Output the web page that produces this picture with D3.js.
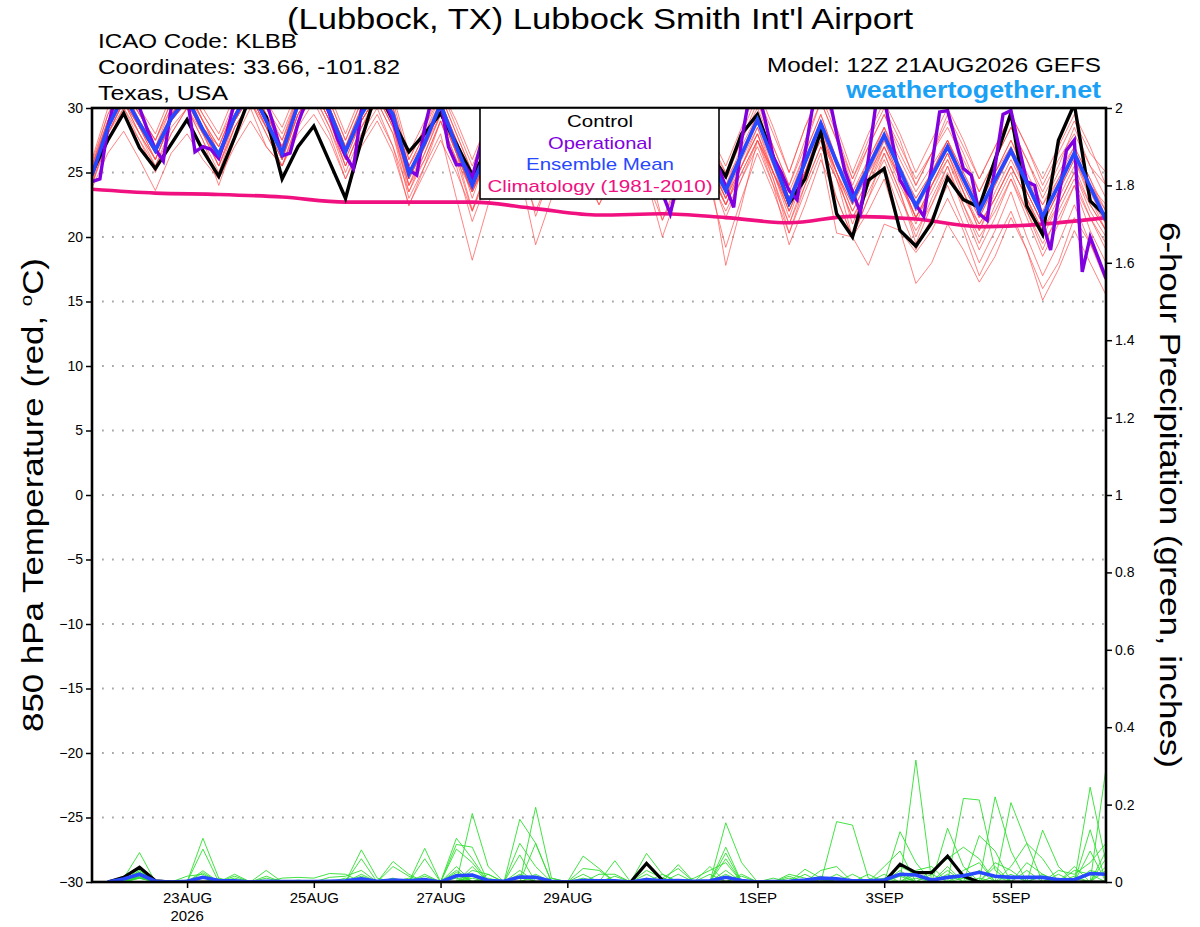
<!DOCTYPE html>
<html>
<head>
<meta charset="utf-8">
<script src="https://cdn.jsdelivr.net/npm/d3@7"></script>
<style>
  body { margin: 0; background: #fff; }
  svg { display: block; font-family: "Liberation Sans", Arial, Helvetica, sans-serif; }
</style>
</head>
<body>
<svg id="chart" width="1200" height="927"></svg>
<script>
// run start: 12Z 21AUG2026, 6-hourly steps (0..64)
var runStart = Date.UTC(2026, 7, 21, 12);

var tickDates = [Date.UTC(2026,7,23), Date.UTC(2026,7,25), Date.UTC(2026,7,27), Date.UTC(2026,7,29),
                 Date.UTC(2026,8,1), Date.UTC(2026,8,3), Date.UTC(2026,8,5)];
var tempTicks = [-30,-25,-20,-15,-10,-5,0,5,10,15,20,25,30];
var precipTicks = [0,0.2,0.4,0.6,0.8,1,1.2,1.4,1.6,1.8,2];

// 850 hPa temperature, control run (6-hourly)
var controlTemp = [25.0,27.5,29.6,26.9, 25.3,27.2,29.1,26.7, 24.7,27.7,31.0,29.3, 24.5,27.0,28.6,25.8,
  23.0,27.5,31.5,29.0, 26.6,28.0,29.6,27.2, 24.8,26.8,29.0,27.0, 25.0,27.0,29.5,28.0,
  24.5,27.0,29.0,27.0, 24.0,26.0,28.5,26.5, 24.7,28.0,29.5,26.2, 22.6,24.5,28.2,21.8,
  20.0,24.4,25.3,20.5, 19.3,21.1,24.6,22.9, 22.3,26.0,29.6,22.4, 20.2,27.5,30.3,22.8, 21.6];

// ensemble mean (6-hourly)
var meanTemp = [24.8,28.5,31.0,28.8, 26.7,29.2,30.8,28.3, 26.4,29.3,31.5,29.0, 26.5,30.3,32.0,29.7,
  26.6,29.5,31.5,29.5, 24.9,27.3,30.3,27.0, 24.0,27.0,29.5,27.5, 25.0,27.5,29.5,27.5,
  25.5,27.5,29.5,27.0, 24.5,26.5,28.5,26.0, 23.6,26.4,29.1,25.9, 22.7,25.8,28.8,25.8,
  22.9,25.4,27.9,25.2, 22.4,24.7,27.0,24.5, 22.0,24.4,26.7,24.2, 21.6,24.0,26.5,23.9, 21.3];

// operational run (3-hourly, 0..128)
var operTemp = [24.3,24.5,28.5,31.0,31.5,31.0,30.0,28.3, 26.8,25.9,30.0,31.5,31.0,26.6,27.0,26.8,
  26.1,28.0,30.5,31.5,32.0,31.0,30.5,28.5, 26.3,26.5,28.8,30.5,31.5,31.0,29.5,27.6,
  26.3,25.3,29.8,31.5,32.0,30.5,29.0,27.0, 25.2,24.8,28.5,31.0,30.5,27.0,25.6,25.6,
  24.6,27.0,29.5,30.5,31.0,30.0,28.0,26.5, 25.5,25.5,27.5,30.0,31.0,30.5,29.0,27.5,
  26.0,25.5,27.0,29.5,30.5,30.0,28.0,25.5, 23.4,21.8,24.5,27.5,29.5,30.0,28.0,25.5,
  23.9,22.3,27.5,31.0,31.5,29.0,26.2,25.0, 23.6,22.9,26.5,30.2,31.5,31.0,28.0,25.2,
  23.5,21.9,26.0,30.5,30.8,27.5,24.4,23.4, 22.5,21.6,25.5,29.7,29.8,27.5,25.3,24.8,
  21.8,21.3,25.5,29.5,29.8,27.0,24.3,24.0, 21.1,19.0,23.0,26.7,27.5,17.3,20.0,18.4, 16.8];

// climatology 1981-2010 (daily, at 12Z)
var climoTemp = [23.7,23.4,23.3,23.1,22.7,22.7,22.7,22.2,21.7,21.8,21.5,21.1,21.6,21.4,20.8,21.0,21.5];

// ensemble members (6-hourly)
var memberTemps = [
 [25.5,29.0,31.5,29.0, 27.0,30.0,31.5,29.0, 27.0,30.0,32.0,29.5, 27.0,31.0,32.5,30.0, 27.0,30.0,32.0,30.0,
  25.5,28.0,31.0,28.0, 25.0,28.0,30.5,28.5, 26.0,28.5,30.5,28.0, 26.0,28.5,30.5,28.0, 25.5,27.5,29.5,27.0,
  24.5,27.5,30.5,27.0, 24.0,27.0,30.5,27.5, 24.5,27.0,29.5,26.5, 24.0,26.5,29.0,26.5, 23.5,26.0,28.5,26.0,
  23.0,25.5,28.5,25.5, 23.0],
 [23.8,26.5,28.2,26.0, 23.6,26.5,28.0,26.0, 24.5,27.0,29.0,27.0, 25.5,28.0,29.5,27.5, 24.5,27.0,29.0,26.5,
  22.5,25.0,27.5,25.0, 22.0,25.0,27.5,25.5, 23.0,25.5,27.5,25.5, 23.5,25.5,27.5,25.5, 23.0,25.0,27.0,24.5,
  22.0,24.5,27.0,24.0, 21.0,24.0,27.0,24.5, 21.5,23.5,26.0,23.0, 20.5,22.5,25.0,22.5, 20.0,22.0,24.5,22.0,
  19.5,21.5,24.0,21.5, 19.0],
 [24.5,28.0,30.5,28.5, 26.5,29.0,31.0,28.5, 26.0,29.0,31.0,28.5, 26.0,29.5,31.5,29.0, 25.5,28.5,30.5,28.0,
  23.0,25.5,28.0,23.0, 18.2,22.5,26.0,25.0, 24.0,27.0,29.5,27.5, 25.0,27.0,29.0,26.5, 23.5,26.0,28.0,25.5,
  22.5,25.5,28.5,25.0, 21.5,25.0,28.5,25.0, 21.0,24.0,27.0,24.5, 21.5,24.0,26.5,23.5, 20.5,23.5,26.0,23.5,
  21.0,23.5,26.0,23.0, 20.5],
 [25.0,28.5,31.0,29.0, 26.5,29.5,31.0,28.5, 26.5,29.5,32.0,29.5, 27.0,30.5,32.5,30.0, 26.5,29.0,31.0,28.5,
  24.5,27.0,30.0,26.5, 23.5,26.5,29.0,25.0, 19.4,23.0,27.5,26.0, 24.5,27.0,29.5,26.5, 23.0,26.0,28.5,25.0,
  17.8,22.5,27.5,25.0, 22.0,25.0,28.0,25.0, 22.0,24.5,27.5,24.5, 21.0,24.0,26.5,23.5, 21.0,23.0,25.5,23.0,
  20.0,22.5,25.0,22.0, 20.0],
 [25.8,29.5,32.0,29.5, 27.5,30.5,32.0,29.5, 27.5,30.5,32.5,30.0, 27.5,31.0,33.0,30.5, 27.5,30.5,32.5,30.5,
  26.0,28.5,31.5,28.5, 25.5,28.5,31.0,29.0, 26.5,29.0,31.0,29.0, 27.0,29.0,31.0,28.5, 26.0,28.0,30.0,27.5,
  25.0,28.0,31.0,28.0, 25.0,28.5,31.5,28.5, 25.0,28.0,30.5,28.0, 25.0,27.5,30.0,27.5, 24.5,27.0,29.5,27.0,
  24.5,27.0,29.5,27.0, 24.0],
 [24.2,27.5,29.5,27.5, 25.0,28.0,30.0,27.5, 25.0,28.5,30.5,28.0, 25.5,29.0,31.0,28.5, 25.0,28.0,30.0,27.0,
  22.4,25.5,29.0,26.0, 22.0,25.5,28.5,26.5, 23.5,26.0,28.0,25.5, 22.5,25.0,28.0,24.5, 20.0,23.5,27.0,25.0,
  22.5,25.5,28.0,24.5, 21.0,24.5,28.0,24.5, 20.0,23.0,26.5,23.5, 19.5,22.5,25.5,22.0, 19.0,21.5,24.5,21.5,
  18.5,21.0,24.0,20.5, 18.0],
 [25.2,29.0,31.5,29.5, 27.5,30.0,31.5,29.0, 27.0,30.0,32.0,29.5, 27.5,30.5,32.0,30.0, 27.0,30.0,32.0,30.0,
  25.5,27.5,30.5,27.5, 24.5,27.5,30.0,28.0, 25.5,28.0,30.0,28.0, 26.0,28.0,30.0,27.5, 25.0,27.0,29.0,26.5,
  24.0,27.0,29.5,26.5, 23.0,26.5,29.5,26.0, 23.0,25.5,28.5,26.0, 23.5,25.5,27.5,25.0, 22.5,25.0,27.5,25.0,
  22.5,25.0,27.0,24.5, 22.0],
 [24.5,28.0,30.5,28.0, 26.0,29.0,30.5,28.0, 26.0,29.0,31.0,28.5, 26.0,30.0,31.5,29.0, 26.0,29.0,31.0,29.0,
  24.5,27.0,30.0,26.5, 23.5,26.0,29.0,27.0, 24.5,27.0,29.0,26.5, 25.0,27.0,29.0,26.5, 24.0,26.0,28.0,25.0,
  22.5,25.0,27.5,24.0, 19.4,22.5,26.0,23.0, 20.0,22.0,24.5,20.5, 16.4,18.0,21.0,19.0, 16.5,18.5,21.5,19.0,
  15.1,17.5,20.5,18.0, 15.5],
 [25.0,28.5,31.0,28.5, 26.5,29.5,31.0,28.5, 26.0,29.5,31.5,29.0, 26.5,30.0,32.0,29.5, 26.5,29.5,31.5,29.5,
  24.0,27.0,30.0,27.0, 23.0,26.5,29.0,27.0, 24.5,27.0,29.0,27.0, 25.0,27.0,29.0,26.5, 24.0,26.0,28.0,25.5,
  23.0,25.5,28.0,25.0, 22.5,25.0,27.5,23.0, 20.0,17.8,21.0,20.5, 18.8,20.5,23.0,20.5, 17.0,19.5,22.0,19.0,
  16.0,18.0,21.5,19.5, 16.5],
 [24.8,28.5,30.8,29.0, 27.0,29.5,30.5,28.0, 26.5,29.0,31.0,29.0, 26.5,30.0,32.0,29.5, 26.5,29.0,31.0,29.0,
  25.0,27.5,30.0,27.5, 24.5,27.0,29.5,27.5, 25.0,27.5,29.5,27.5, 25.5,27.5,29.5,27.0, 24.5,26.5,28.5,26.0,
  23.0,26.5,29.0,26.0, 22.5,25.5,29.0,25.5, 23.0,26.0,28.5,25.0, 22.0,24.5,27.0,24.0, 21.5,24.0,26.5,23.5,
  21.0,23.5,26.5,23.0, 21.0],
 [25.3,29.0,31.5,29.0, 26.5,29.5,31.0,29.0, 26.5,29.5,31.5,29.0, 27.0,30.5,32.5,30.0, 27.0,30.0,32.0,29.5,
  25.5,28.0,30.5,27.5, 24.5,27.5,30.0,28.0, 25.5,28.0,30.0,27.5, 26.0,28.0,30.0,27.5, 25.0,27.0,29.0,26.5,
  24.0,26.5,29.5,26.5, 23.5,26.5,29.5,26.0, 23.5,26.0,28.5,25.5, 23.0,25.0,27.5,25.0, 22.5,25.0,27.5,24.5,
  22.0,24.5,27.0,24.5, 21.5],
 [24.0,27.5,30.0,27.5, 25.5,28.0,30.0,27.5, 24.0,27.5,30.0,27.0, 25.5,28.5,30.5,28.0, 24.5,27.5,29.5,27.0,
  23.5,26.0,29.0,25.5, 21.2,24.5,27.5,25.5, 22.0,25.0,27.5,25.0, 22.5,25.0,27.5,24.5, 21.3,24.0,26.5,24.0,
  19.2,23.0,26.5,23.5, 20.3,23.5,26.5,20.3, 20.0,23.0,25.5,22.0, 19.0,21.5,24.0,21.0, 18.0,20.5,23.5,20.0,
  17.0,19.5,22.5,19.5, 17.0],
 [26.0,30.0,32.0,30.0, 28.0,31.0,32.5,30.0, 28.0,31.0,33.0,30.5, 28.5,31.5,33.0,31.0, 28.0,31.0,33.0,31.0,
  26.5,29.0,31.5,29.0, 26.0,29.0,31.5,29.5, 27.0,29.5,31.5,29.5, 27.0,29.5,31.5,29.0, 26.0,28.5,30.5,28.0,
  25.5,28.5,31.5,28.5, 25.0,28.5,31.0,28.0, 24.5,27.5,30.0,27.5, 24.0,26.5,29.5,27.0, 24.5,27.0,29.5,27.0,
  24.0,26.5,29.0,26.5, 25.0],
 [24.6,28.0,30.5,28.5, 26.0,29.0,30.5,28.5, 25.5,29.0,31.0,28.5, 26.0,29.5,31.5,29.0, 26.0,29.0,31.0,28.5,
  23.5,26.5,29.5,26.5, 22.1,25.5,28.5,26.5, 21.6,25.0,28.0,26.0, 24.0,26.5,28.5,26.0, 21.3,24.5,27.5,25.0,
  21.5,24.5,27.5,24.5, 20.3,24.0,27.0,24.5, 21.5,24.0,26.5,23.5, 20.0,23.0,25.5,22.5, 19.5,22.5,25.0,22.0,
  19.0,22.0,24.5,21.5, 19.5],
 [25.5,29.0,31.0,29.0, 27.0,29.5,31.0,28.5, 27.0,30.0,31.5,29.0, 27.0,30.5,32.0,29.5, 26.5,29.5,31.5,29.5,
  25.0,27.5,30.5,27.0, 24.5,27.0,29.5,27.5, 25.5,27.5,29.5,27.5, 26.0,27.5,29.5,27.0, 25.0,26.5,28.5,26.0,
  24.5,26.5,29.0,26.0, 23.0,26.0,29.0,25.5, 23.5,25.5,28.0,25.0, 23.0,25.0,27.5,24.5, 22.0,24.5,27.0,24.5,
  22.5,24.5,26.5,24.0, 22.5],
 [24.0,28.0,30.5,28.0, 26.0,29.0,30.5,28.0, 25.5,28.5,30.5,28.5, 26.0,29.5,31.5,29.0, 25.5,28.5,31.0,28.5,
  24.0,26.5,29.5,26.5, 23.5,26.5,29.0,27.0, 24.5,26.5,28.5,26.5, 24.5,26.5,28.5,26.0, 23.5,25.5,27.5,25.5,
  23.0,25.5,28.0,25.0, 22.0,25.0,28.0,25.0, 22.5,25.0,27.0,24.0, 21.5,23.5,26.0,23.5, 20.5,23.0,25.5,23.0,
  20.5,23.0,25.5,22.5, 20.5],
 [25.5,29.5,31.5,29.5, 27.5,30.5,31.5,29.5, 27.5,30.0,32.0,30.0, 28.0,31.0,32.5,30.5, 27.5,30.5,32.0,30.0,
  26.0,28.5,31.0,28.0, 25.0,28.0,30.5,28.5, 26.0,28.5,30.5,28.5, 26.5,28.5,30.5,28.0, 25.5,27.5,29.5,27.0,
  25.0,27.5,30.0,27.0, 24.0,27.5,30.5,27.5, 24.0,27.0,29.5,27.0, 24.5,26.5,28.5,26.0, 23.5,26.0,28.5,26.0,
  23.5,26.0,28.0,25.5, 24.0],
 [24.4,28.0,30.0,28.0, 25.5,28.5,30.0,28.0, 25.5,28.5,30.5,28.0, 25.5,29.0,31.0,28.5, 25.5,28.5,30.5,28.0,
  24.0,26.0,29.0,26.0, 23.5,26.0,28.5,26.5, 24.0,26.5,28.5,26.5, 24.5,26.5,28.5,26.0, 23.5,25.5,27.5,25.0,
  22.5,25.0,27.5,25.0, 22.5,25.0,27.5,25.0, 22.0,24.5,27.0,24.5, 21.5,24.0,26.0,23.0, 21.0,23.0,25.5,23.0,
  20.5,22.5,25.0,22.5, 20.5],
 [25.0,28.5,31.0,28.5, 26.5,29.5,31.5,29.0, 26.5,29.5,31.5,29.5, 27.0,30.0,32.0,30.0, 27.0,29.5,31.5,29.5,
  25.0,27.5,30.5,27.5, 24.5,27.5,30.0,28.0, 25.5,27.5,29.5,27.5, 25.5,27.5,29.5,27.0, 24.5,26.5,28.5,26.0,
  23.5,26.5,29.0,26.0, 23.0,26.0,29.0,26.0, 23.0,25.5,28.0,25.0, 22.5,25.0,27.5,24.5, 22.5,25.0,27.0,24.0,
  21.5,24.0,26.5,24.0, 22.0],
 [24.7,28.5,30.5,28.5, 26.0,29.0,31.0,28.5, 26.5,29.0,31.0,28.5, 26.5,29.5,31.5,29.0, 26.5,29.0,31.0,29.0,
  24.5,27.0,29.5,26.5, 23.5,26.5,29.0,27.0, 24.5,27.0,29.0,26.5, 25.0,27.0,29.0,26.5, 24.0,26.0,28.0,25.5,
  23.0,26.0,28.5,25.5, 22.0,25.0,28.5,25.0, 22.5,25.0,27.5,24.5, 21.5,24.0,26.5,24.0, 21.5,24.0,26.5,23.5,
  21.0,23.5,26.0,23.5, 21.0]
];

// 6-hour precipitation (inches), steps 1..64; control and mean
var controlPrecip = [0,0.012,0.038,0.003, 0,0,0,0, 0,0,0,0, 0,0,0,0, 0,0,0,0, 0,0,0,0, 0,0,0,0, 0,0,0,0,
  0,0,0.048,0.005, 0,0,0,0, 0,0,0,0, 0,0,0,0, 0,0,0.046,0.024, 0.024,0.067,0.015,0, 0,0,0,0, 0,0,0,0];
var meanPrecip = [0,0.008,0.02,0.002, 0,0.002,0.012,0.004, 0.003,0,0.002,0.001, 0.001,0.001,0.002,0.003,
  0.008,0.002,0.005,0.003, 0.006,0,0.016,0.018, 0.004,0.002,0.013,0.012, 0.002,0,0.004,0.003,
  0.003,0,0.006,0.003, 0.004,0.002,0.003,0.012, 0.004,0,0.001,0.002, 0.005,0.01,0.008,0.003,
  0.003,0.005,0.02,0.018, 0.005,0.012,0.016,0.025, 0.015,0.012,0.012,0.012, 0.006,0.006,0.022,0.02];

// members: [step, inches] pairs, the steps not listed had no precipitation
var memberPrecip = [
 [[2,0.01],[3,0.076],[7,0.113],[8,0.01],[17,0.083],[18,0.01],[23,0.113],[24,0.06],[27,0.162],[28,0.1],[40,0.153],[41,0.05],[52,0.315],[63,0.245],[64,0.05]],
 [[2,0.015],[3,0.04],[7,0.085],[9,0.02],[17,0.06],[21,0.087],[24,0.177],[25,0.04],[28,0.193],[29,0.01],[35,0.074],[36,0.02],[47,0.156],[48,0.147],[49,0.01],[57,0.22],[58,0.08]],
 [[3,0.035],[7,0.029],[11,0.03],[19,0.053],[20,0.02],[23,0.097],[24,0.09],[27,0.1],[28,0.04],[31,0.067],[32,0.035],[40,0.09],[51,0.13],[52,0.05],[55,0.216],[56,0.212],[57,0.03],[64,0.294]],
 [[3,0.03],[7,0.024],[12,0.01],[13,0.012],[14,0.01],[15,0.022],[16,0.02],[21,0.06],[23,0.085],[24,0.05],[33,0.055],[40,0.075],[45,0.033],[46,0.01],[54,0.139],[55,0.04],[60,0.134],[61,0.04]],
 [[2,0.005],[3,0.02],[6,0.015],[7,0.02],[9,0.015],[17,0.02],[19,0.04],[20,0.015],[24,0.03],[25,0.02],[27,0.07],[37,0.045],[40,0.06],[50,0.04],[51,0.08],[58,0.205],[59,0.1],[63,0.135]],
 [[3,0.02],[11,0.015],[15,0.012],[16,0.015],[17,0.03],[21,0.02],[23,0.04],[28,0.1],[31,0.035],[32,0.03],[39,0.04],[44,0.02],[45,0.01],[51,0.04],[52,0.02],[56,0.12],[57,0.08],[59,0.05],[60,0.02],[62,0.04],[64,0.08]],
 [[3,0.015],[6,0.005],[8,0.005],[19,0.01],[23,0.03],[25,0.02],[27,0.02],[35,0.03],[36,0.01],[37,0.035],[41,0.02],[46,0.03],[47,0.04],[50,0.01],[53,0.03],[54,0.06],[55,0.09],[56,0.06],[61,0.03],[62,0.02],[63,0.05],[64,0.1]],
 [[3,0.01],[24,0.02],[35,0.02],[38,0.01],[39,0.03],[40,0.05],[43,0.01],[49,0.02],[51,0.02],[54,0.03],[58,0.04],[59,0.1],[60,0.06],[63,0.08]],
 [[3,0.02],[13,0.005],[24,0.015],[29,0.01],[32,0.02],[33,0.02],[36,0.02],[44,0.01],[52,0.03],[53,0.04],[57,0.05],[58,0.03],[61,0.02],[64,0.04]],
 [[3,0.025],[7,0.015],[17,0.01],[23,0.02],[27,0.03],[35,0.01],[40,0.03],[47,0.02],[55,0.03],[56,0.05],[62,0.03],[63,0.02]],
 [[2,0.01],[3,0.01],[9,0.01],[20,0.01],[28,0.02],[31,0.02],[37,0.02],[48,0.02],[51,0.03],[57,0.04],[60,0.02],[64,0.06]],
 [[3,0.03],[16,0.01],[24,0.04],[27,0.015],[39,0.02],[45,0.02],[52,0.02],[54,0.04],[59,0.03],[62,0.015]],
 [[3,0.018],[21,0.015],[23,0.025],[33,0.015],[41,0.015],[50,0.02],[55,0.02],[58,0.02],[63,0.03],[64,0.02]],
 [[3,0.012],[8,0.008],[25,0.01],[36,0.01],[46,0.015],[53,0.02],[56,0.03],[61,0.01]],
 [[3,0.022],[17,0.015],[28,0.015],[40,0.02],[51,0.015],[57,0.015],[64,0.03]],
 [[3,0.015],[11,0.01],[24,0.01],[44,0.015],[54,0.02],[60,0.015]],
 [[3,0.01],[23,0.01],[47,0.01],[55,0.01]],
 [[2,0.008],[3,0.025],[31,0.01],[52,0.01]],
 [[3,0.018],[19,0.005],[40,0.01],[62,0.01]],
 [[3,0.012],[35,0.005],[56,0.01]]
];

var MON = ["JAN","FEB","MAR","APR","MAY","JUN","JUL","AUG","SEP","OCT","NOV","DEC"];
var HOUR = 3600e3;

(function() {
var svg = d3.select("#chart"),
    pL = 92, pR = 1106, pT = 108, pB = 882;

var x = d3.scaleUtc()
    .domain([new Date(runStart), new Date(runStart + 384 * HOUR)])
    .range([pL, pR]);
var yT = d3.scaleLinear().domain([-30, 30]).range([pB, pT]);
var yP = d3.scaleLinear().domain([0, 2]).range([pB, pT]);

function at(h) { return new Date(runStart + h * HOUR); }

svg.append("clipPath").attr("id", "plotclip")
  .append("rect").attr("x", pL).attr("y", pT).attr("width", pR - pL).attr("height", pB - pT);

// dotted grid at the temperature ticks
svg.append("g").selectAll("line")
  .data(tempTicks.filter(function(t) { return t > -30 && t < 30; }))
  .enter().append("line")
    .attr("x1", pL + 10).attr("x2", pR)
    .attr("y1", function(d) { return yT(d); }).attr("y2", function(d) { return yT(d); })
    .attr("stroke", "#a8a8a8").attr("stroke-width", 1.8)
    .attr("stroke-dasharray", "1.8,8.2");

var plot = svg.append("g").attr("clip-path", "url(#plotclip)");

var line6 = d3.line().x(function(d, i) { return x(at(i * 6)); }).y(function(d) { return yT(d); });
var line3 = d3.line().x(function(d, i) { return x(at(i * 3)); }).y(function(d) { return yT(d); });
var line24 = d3.line().x(function(d, i) { return x(at(i * 24)); }).y(function(d) { return yT(d); })
    .curve(d3.curveMonotoneX);
var lineP = d3.line().x(function(d, i) { return x(at((i + 1) * 6)); }).y(function(d) { return yP(d); });

// ensemble members, temperature
plot.append("g").selectAll("path").data(memberTemps).enter().append("path")
  .attr("d", line6).attr("fill", "none")
  .attr("stroke", "#ff4a4a").attr("stroke-width", 0.8).attr("stroke-opacity", 0.85);

// ensemble members, precipitation
var precipSeries = memberPrecip.map(function(pairs) {
  var s = controlPrecip.map(function() { return 0; });
  pairs.forEach(function(p) { s[p[0] - 1] = p[1]; });
  return s;
});
plot.append("g").selectAll("path").data(precipSeries).enter().append("path")
  .attr("d", lineP).attr("fill", "none")
  .attr("stroke", "#2ee02e").attr("stroke-width", 0.9);

plot.append("path").datum(climoTemp).attr("d", line24).attr("fill", "none")
  .attr("stroke", "#f0107f").attr("stroke-width", 3.6);

plot.append("path").datum(controlTemp).attr("d", line6).attr("fill", "none")
  .attr("stroke", "#000").attr("stroke-width", 3.4);
plot.append("path").datum(operTemp).attr("d", line3).attr("fill", "none")
  .attr("stroke", "#8000e0").attr("stroke-width", 3.4);
plot.append("path").datum(meanTemp).attr("d", line6).attr("fill", "none")
  .attr("stroke", "#2848ff").attr("stroke-width", 3.8);

plot.append("path").datum(controlPrecip).attr("d", lineP).attr("fill", "none")
  .attr("stroke", "#000").attr("stroke-width", 3.2);
plot.append("path").datum(meanPrecip).attr("d", lineP).attr("fill", "none")
  .attr("stroke", "#2848ff").attr("stroke-width", 3.6);

// axes
var fmtP = function(d) { return String(+d.toFixed(1)); };
var gl = svg.append("g").attr("transform", "translate(" + pL + ",0)")
  .call(d3.axisLeft(yT).tickValues(tempTicks).tickSize(6).tickPadding(3));
var gr = svg.append("g").attr("transform", "translate(" + pR + ",0)")
  .call(d3.axisRight(yP).tickValues(precipTicks).tickFormat(fmtP).tickSize(6).tickPadding(3));
var gb = svg.append("g").attr("transform", "translate(0," + pB + ")")
  .call(d3.axisBottom(x).tickValues(tickDates.map(function(t) { return new Date(t); }))
    .tickFormat(function(d) { return d.getUTCDate() + MON[d.getUTCMonth()]; })
    .tickSize(6).tickPadding(4));
[gl, gr, gb].forEach(function(g) {
  g.select(".domain").remove();
  g.selectAll(".tick line").attr("stroke", "#000").attr("stroke-width", 1.5);
  g.selectAll(".tick text").attr("fill", "#000").style("font-family", "Liberation Sans, Arial, sans-serif");
});
gl.selectAll(".tick text").style("font-size", "14px");
gr.selectAll(".tick text").style("font-size", "14px");
gb.selectAll(".tick text").style("font-size", "15px");

svg.append("text").attr("x", x(new Date(tickDates[0]))).attr("y", 921)
  .attr("text-anchor", "middle").style("font-size", "15px").text("2026");

// frame
svg.append("rect").attr("x", pL).attr("y", pT).attr("width", pR - pL).attr("height", pB - pT)
  .attr("fill", "none").attr("stroke", "#000").attr("stroke-width", 2.6);

// legend
var lg = svg.append("g");
lg.append("rect").attr("x", 480).attr("y", pT).attr("width", 239).attr("height", 91)
  .attr("fill", "#fff").attr("stroke", "#000").attr("stroke-width", 1.6);
var legendItems = [
  { label: "Control", color: "#000", w: 66 },
  { label: "Operational", color: "#8000e0", w: 104 },
  { label: "Ensemble Mean", color: "#2848ff", w: 148 },
  { label: "Climatology (1981-2010)", color: "#f0107f", w: 225 }
];
lg.selectAll("text.leg").data(legendItems).enter().append("text")
  .attr("class", "leg")
  .attr("x", 600).attr("y", function(d, i) { return 127 + i * 21.5; })
  .attr("text-anchor", "middle").attr("fill", function(d) { return d.color; })
  .attr("textLength", function(d) { return d.w; }).attr("lengthAdjust", "spacingAndGlyphs")
  .style("font-size", "17px").text(function(d) { return d.label; });

// header texts
function label(txt, xPos, yPos, size, len, anchor, color, weight) {
  return svg.append("text").attr("x", xPos).attr("y", yPos)
    .attr("text-anchor", anchor || "start").attr("fill", color || "#000")
    .attr("textLength", len).attr("lengthAdjust", "spacingAndGlyphs")
    .style("font-size", size + "px").style("font-weight", weight || "normal").text(txt);
}
label("(Lubbock, TX) Lubbock Smith Int'l Airport", 600, 29, 30, 626, "middle");
label("ICAO Code: KLBB", 98, 48, 21, 199);
label("Coordinates: 33.66, -101.82", 98, 74, 21, 302);
label("Texas, USA", 98, 100, 21, 130);
label("Model: 12Z 21AUG2026 GEFS", 1101, 72, 21, 334, "end");
label("weathertogether.net", 1101, 98, 23, 255, "end", "#1aa0f5", "bold");

// axis titles
var lt = svg.append("text").attr("transform", "translate(43,495) rotate(-90)")
  .attr("text-anchor", "middle").attr("textLength", 474).attr("lengthAdjust", "spacingAndGlyphs")
  .style("font-size", "29px");
lt.append("tspan").text("850 hPa Temperature (red, ");
lt.append("tspan").attr("dy", -11).style("font-size", "17px").text("o");
lt.append("tspan").attr("dy", 11).text("C)");

svg.append("text").attr("transform", "translate(1160,495) rotate(90)")
  .attr("text-anchor", "middle").attr("textLength", 546).attr("lengthAdjust", "spacingAndGlyphs")
  .style("font-size", "29px").text("6-hour Precipitation (green, inches)");
})();
</script>
</body>
</html>
